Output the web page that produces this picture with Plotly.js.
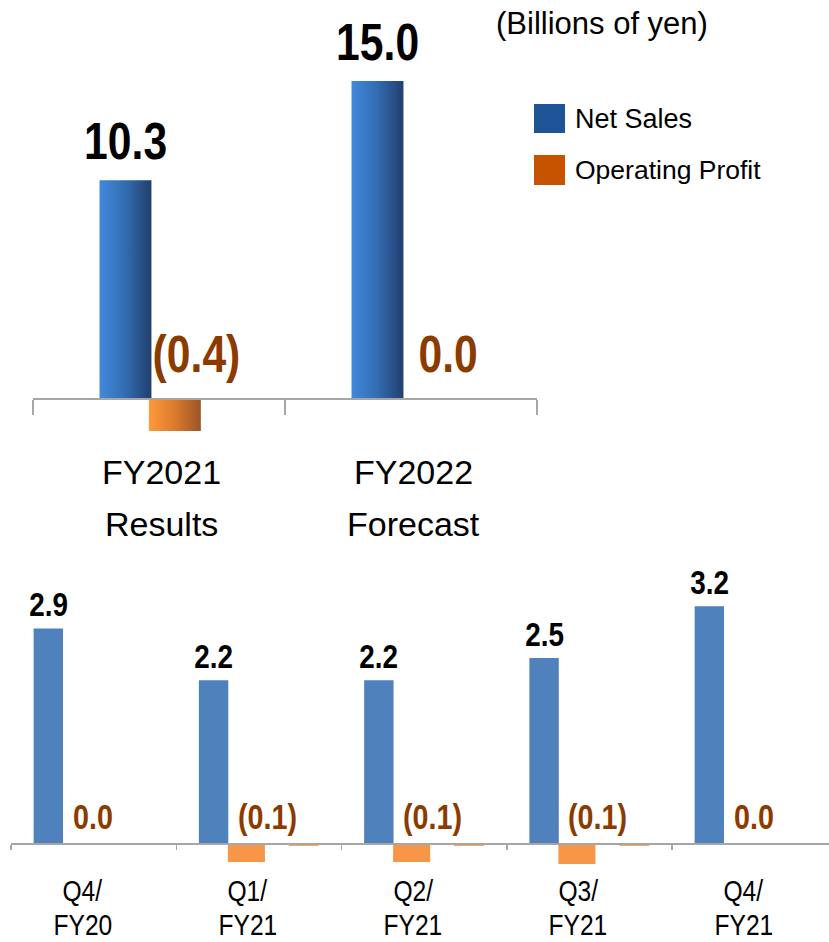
<!DOCTYPE html>
<html><head><meta charset="utf-8">
<script src="https://cdn.plot.ly/plotly-3.0.1.min.js"></script>
<style>html,body{margin:0;padding:0;background:#fff;} #chart{width:829px;height:942px;}</style>
</head><body><div id="chart"></div>
<script>
// ---------- data ----------
const seriesNames = ['Net Sales', 'Operating Profit'];
const unitLabel = '(Billions of yen)';

const topLine1 = ['FY2021', 'FY2022'];
const topLine2 = ['Results', 'Forecast'];
const topNetSales = [10.3, 15.0];
const topOpProfit = [-0.4, 0.0];

const qLine1 = ['Q4/', 'Q1/', 'Q2/', 'Q3/', 'Q4/'];
const qLine2 = ['FY20', 'FY21', 'FY21', 'FY21', 'FY21'];
const qNetSales = [2.9, 2.2, 2.2, 2.5, 3.2];
const qOpProfit = [0.0, -0.1, -0.1, -0.11, 0.0];
const qOther = [0, -0.015, -0.015, -0.015, 0];

// ---------- helpers ----------
const W = 829, H = 942;
const py = p => 1 - p / H;
const px = p => p / W;
const fmt = v => v < 0 ? '(' + Math.abs(v).toFixed(1) + ')' : v.toFixed(1);
const NARROW = '"Liberation Sans Narrow", "Arial Narrow", "Liberation Sans", Arial, sans-serif';
const REG = '"Liberation Sans", Arial, sans-serif';
const BROWN = '#8B3A00';

const topCats = topLine1.map((a, i) => a + ' ' + topLine2[i]);
const qCats = qLine1.map((a, i) => a + qLine2[i]);

// geometry (layout)
const T = {x0: 33, x1: 537, axis: 398, top: 38.7, bottom: 440.3, ppu1: 21.137, ppu2: 82.5};
const B = {x0: 11, cat: 165.25, axis: 843, top: 561.8, bottom: 880, ppu1: 74, ppu2: 190};
const topCatPx = (T.x1 - T.x0) / 2;

const tBlue = {offset: -0.236, width: 0.206};
const tOrange = {offset: -0.04, width: 0.206};
const bBlue = {offset: -0.363, width: 0.178};
const bOrange = {offset: -0.1875, width: 0.224};
const bOther = {offset: 0.181, width: 0.181};

const data = [
  {type: 'bar', name: seriesNames[0], x: topCats, y: topNetSales, xaxis: 'x', yaxis: 'y',
   marker: {color: '#3570B8'}, offset: tBlue.offset, width: tBlue.width, hoverinfo: 'skip'},
  {type: 'bar', name: seriesNames[1], x: topCats, y: topOpProfit, xaxis: 'x', yaxis: 'y3',
   marker: {color: '#E07A2A'}, offset: tOrange.offset, width: tOrange.width, hoverinfo: 'skip'},
  {type: 'bar', name: seriesNames[0], x: qCats, y: qNetSales, xaxis: 'x2', yaxis: 'y2',
   marker: {color: '#4F81BD'}, offset: bBlue.offset, width: bBlue.width, hoverinfo: 'skip'},
  {type: 'bar', name: seriesNames[1], x: qCats, y: qOpProfit, xaxis: 'x2', yaxis: 'y4',
   marker: {color: '#F79646'}, offset: bOrange.offset, width: bOrange.width, hoverinfo: 'skip'},
  {type: 'bar', name: 'other', x: qCats, y: qOther, xaxis: 'x2', yaxis: 'y4',
   marker: {color: '#F79646'}, offset: bOther.offset, width: bOther.width, hoverinfo: 'skip'}
];

const axisStyle = {type: 'category', showline: true, linecolor: '#A6A6A6', linewidth: 1.5,
  ticks: 'outside', tickson: 'boundaries', tickcolor: '#A6A6A6', tickwidth: 1.5,
  showticklabels: false, showgrid: false, zeroline: false, fixedrange: true, anchor: 'free'};

const annotations = [];
// top labels
topNetSales.forEach((v, i) => annotations.push({xref: 'x', yref: 'y', x: i, y: v,
  xshift: (tBlue.offset + tBlue.width / 2) * topCatPx, yshift: 39, xanchor: 'center', yanchor: 'middle',
  text: '<b>' + fmt(v) + '</b>', showarrow: false, font: {family: NARROW, size: 52, color: '#000'}}));
topOpProfit.forEach((v, i) => annotations.push({xref: 'x', yref: 'y', x: i, y: 0,
  xshift: 37, yshift: 44, xanchor: 'center', yanchor: 'middle',
  text: '<b>' + fmt(v) + '</b>', showarrow: false, font: {family: NARROW, size: 52, color: BROWN}}));
topLine1.forEach((t, i) => {
  annotations.push({xref: 'x', yref: 'paper', x: i, y: py(472), xshift: 2, xanchor: 'center', yanchor: 'middle',
    text: t, showarrow: false, font: {family: REG, size: 34, color: '#000'}});
  annotations.push({xref: 'x', yref: 'paper', x: i, y: py(524), xshift: 2, xanchor: 'center', yanchor: 'middle',
    text: topLine2[i], showarrow: false, font: {family: REG, size: 34, color: '#000'}});
});
// bottom labels
qNetSales.forEach((v, i) => annotations.push({xref: 'x2', yref: 'y2', x: i, y: v,
  xshift: (bBlue.offset + bBlue.width / 2) * B.cat, yshift: 24, xanchor: 'center', yanchor: 'middle',
  text: '<b>' + fmt(v) + '</b>', showarrow: false, font: {family: NARROW, size: 34, color: '#000'}}));
qOpProfit.forEach((v, i) => annotations.push({xref: 'x2', yref: 'y2', x: i, y: 0,
  xshift: -23, yshift: 27, xanchor: 'left', yanchor: 'middle',
  text: '<b>' + fmt(v) + '</b>', showarrow: false, font: {family: NARROW, size: 35, color: BROWN}}));
qLine1.forEach((t, i) => {
  annotations.push({xref: 'x2', yref: 'paper', x: i, y: py(890), xshift: -11, xanchor: 'center', yanchor: 'middle',
    text: t, showarrow: false, font: {family: NARROW, size: 30, color: '#000'}});
  annotations.push({xref: 'x2', yref: 'paper', x: i, y: py(924), xshift: -11, xanchor: 'center', yanchor: 'middle',
    text: qLine2[i], showarrow: false, font: {family: NARROW, size: 30, color: '#000'}});
});
// legend + unit
annotations.push({xref: 'paper', yref: 'paper', x: px(573), y: py(119), xanchor: 'left', yanchor: 'middle',
  text: seriesNames[0], showarrow: false, font: {family: REG, size: 27, color: '#000'}});
annotations.push({xref: 'paper', yref: 'paper', x: px(573), y: py(170), xanchor: 'left', yanchor: 'middle',
  text: seriesNames[1], showarrow: false, font: {family: REG, size: 26.5, color: '#000'}});
annotations.push({xref: 'paper', yref: 'paper', x: px(602), y: py(24), xanchor: 'center', yanchor: 'middle',
  text: unitLabel, showarrow: false, font: {family: REG, size: 31, color: '#000'}});

const shapes = [
  {type: 'rect', xref: 'paper', yref: 'paper', x0: px(534), x1: px(565), y0: py(133), y1: py(104),
   fillcolor: '#1F5597', line: {width: 0}},
  {type: 'rect', xref: 'paper', yref: 'paper', x0: px(534), x1: px(565), y0: py(185), y1: py(155),
   fillcolor: '#C65300', line: {width: 0}}
];

const layout = {
  width: W, height: H, margin: {l: 0, r: 0, t: 0, b: 0}, paper_bgcolor: '#fff', plot_bgcolor: 'rgba(0,0,0,0)',
  showlegend: false, barmode: 'overlay',
  xaxis: Object.assign({}, axisStyle, {domain: [px(T.x0), px(T.x1)], range: [-0.5, 1.5], position: py(T.axis), ticklen: 15}),
  yaxis: {domain: [py(T.bottom), py(T.top)], range: [-(T.bottom - T.axis) / T.ppu1, (T.axis - T.top) / T.ppu1],
          visible: false, anchor: 'x', fixedrange: true},
  yaxis3: {overlaying: 'y', anchor: 'x', range: [-(T.bottom - T.axis) / T.ppu2, (T.axis - T.top) / T.ppu2],
           visible: false, fixedrange: true},
  xaxis2: Object.assign({}, axisStyle, {domain: [px(B.x0), 1], range: [-0.5, -0.5 + (W - B.x0) / B.cat], position: py(B.axis), ticklen: 5}),
  yaxis2: {domain: [py(B.bottom), py(B.top)], range: [-(B.bottom - B.axis) / B.ppu1, (B.axis - B.top) / B.ppu1],
           visible: false, anchor: 'x2', fixedrange: true},
  yaxis4: {overlaying: 'y2', anchor: 'x2', range: [-(B.bottom - B.axis) / B.ppu2, (B.axis - B.top) / B.ppu2],
           visible: false, fixedrange: true},
  annotations: annotations, shapes: shapes
};

Plotly.newPlot('chart', data, layout, {staticPlot: true, displayModeBar: false}).then(gd => {
  const ns = 'http://www.w3.org/2000/svg';
  const svg = gd.querySelector('svg.main-svg');
  let defs = svg.querySelector('defs');
  if (!defs) { defs = document.createElementNS(ns, 'defs'); svg.insertBefore(defs, svg.firstChild); }
  function addGrad(id, stops) {
    const g = document.createElementNS(ns, 'linearGradient');
    g.setAttribute('id', id); g.setAttribute('x1', '0'); g.setAttribute('x2', '1');
    g.setAttribute('y1', '0'); g.setAttribute('y2', '0');
    stops.forEach(([o, c]) => { const s = document.createElementNS(ns, 'stop');
      s.setAttribute('offset', o); s.setAttribute('stop-color', c); g.appendChild(s); });
    defs.appendChild(g);
  }
  addGrad('gBlue', [['0', '#4189DC'], ['0.5', '#336CB2'], ['1', '#213F6E']]);
  addGrad('gOrange', [['0', '#FF9A3A'], ['0.5', '#DA7A2C'], ['1', '#9B5524']]);
  gd.querySelectorAll('.trace.bars path').forEach(p => {
    const f = p.style.fill;
    if (f === 'rgb(53, 112, 184)') p.style.fill = 'url(#gBlue)';
    else if (f === 'rgb(224, 122, 42)') p.style.fill = 'url(#gOrange)';
  });
  // condense the "narrow" label texts (no narrow face is installed)
  const fullAnn = gd._fullLayout.annotations;
  gd.querySelectorAll('g.annotation').forEach(g => {
    const idx = +g.getAttribute('data-index');
    const a = fullAnn[idx];
    if (!a || String(a.font.family).indexOf('Narrow') < 0) return;
    const t = g.querySelector('text.annotation-text');
    if (!t) return;
    const bb = t.getBBox();
    const s = 0.82;
    const cx = a.xanchor === 'left' ? bb.x : (a.xanchor === 'right' ? bb.x + bb.width : bb.x + bb.width / 2);
    t.setAttribute('transform', 'translate(' + cx + ',0) scale(' + s + ',1) translate(' + (-cx) + ',0)');
  });
});
</script>
</body></html>
